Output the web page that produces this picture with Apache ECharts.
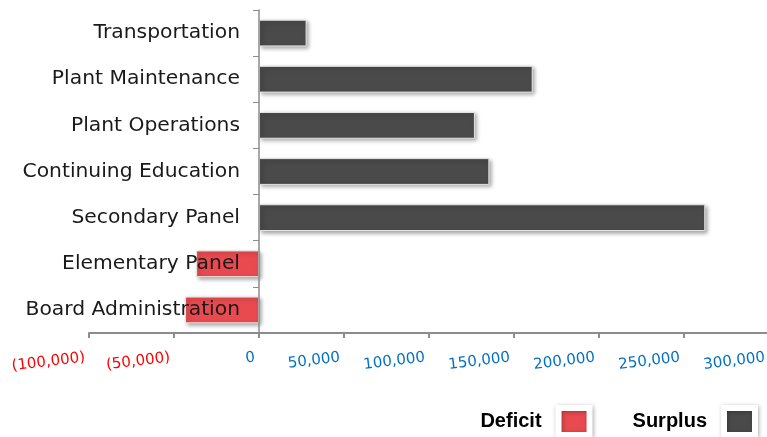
<!DOCTYPE html>
<html><head><meta charset="utf-8">
<script src="https://cdn.jsdelivr.net/npm/echarts@6/dist/echarts.min.js"></script>
<style>html,body{margin:0;padding:0;background:#fff}#c{width:767px;height:437px}</style>
</head><body><div id="c"></div>
<script>
const categories = ["Board Administration","Elementary Panel","Secondary Panel","Continuing Education","Plant Operations","Plant Maintenance","Transportation"];
const deficitValues = [-43500, -37000, null, null, null, null, null];
const surplusValues = [null, null, 262500, 135500, 127000, 161000, 28000];
const seriesNames = ["Deficit","Surplus"];

function fmt(v){
  const s = Math.abs(v).toLocaleString('en-US');
  return v < 0 ? '(' + s + ')' : s;
}
const chart = echarts.init(document.getElementById('c'));
const shadow = {shadowBlur:4, shadowOffsetX:2, shadowOffsetY:2, shadowColor:'rgba(0,0,0,0.35)', borderColor:'#e6e6e6', borderWidth:1};
chart.setOption({
  animation:false,
  grid:{left:89, width:680, top:10, bottom:104, containLabel:false, outerBoundsMode:'none'},
  legend:{
    data:seriesNames, right:4, bottom:-6, align:'right', itemGap:40,
    itemWidth:31, itemHeight:27, icon:'rect',
    itemStyle:{borderColor:'#fff', borderWidth:6, shadowBlur:4, shadowColor:'rgba(0,0,0,0.3)', shadowOffsetX:1, shadowOffsetY:1},
    textStyle:{fontFamily:'Liberation Sans, Arial', fontWeight:'bold', fontSize:20, color:'#000', padding:[0,12,0,0]}
  },
  xAxis:{
    type:'value', min:-100000, max:300000, interval:50000,
    splitLine:{show:false},
    axisLine:{show:true, lineStyle:{color:'#8c8c8c', width:2}},
    axisTick:{show:true, length:5, lineStyle:{color:'#8c8c8c', width:2}},
    axisLabel:{rotate:7, margin:24, fontFamily:'DejaVu Sans', fontSize:15, padding:[0,4,0,0],
      formatter:fmt,
      color:function(v){ return Number(v) < 0 ? '#ff0000' : '#0070c0'; }}
  },
  yAxis:{
    type:'category', data:categories, z:10,
    axisLine:{show:true, onZero:true, lineStyle:{color:'#8c8c8c', width:1.5}},
    axisTick:{show:true, length:6, lineStyle:{color:'#8c8c8c'}},
    axisLabel:{margin:-151, fontFamily:'DejaVu Sans', fontSize:20.3, color:'#1a1a1a'}
  },
  series:[
    {name:seriesNames[0], type:'bar', stack:'t', data:deficitValues, barWidth:'58%', z:2,
     itemStyle:Object.assign({color:'#e84a4f'}, shadow)},
    {name:seriesNames[1], type:'bar', stack:'t', data:surplusValues, barWidth:'58%', z:2,
     itemStyle:Object.assign({color:'#4a4a4a'}, shadow)}
  ]
});
</script></body></html>
